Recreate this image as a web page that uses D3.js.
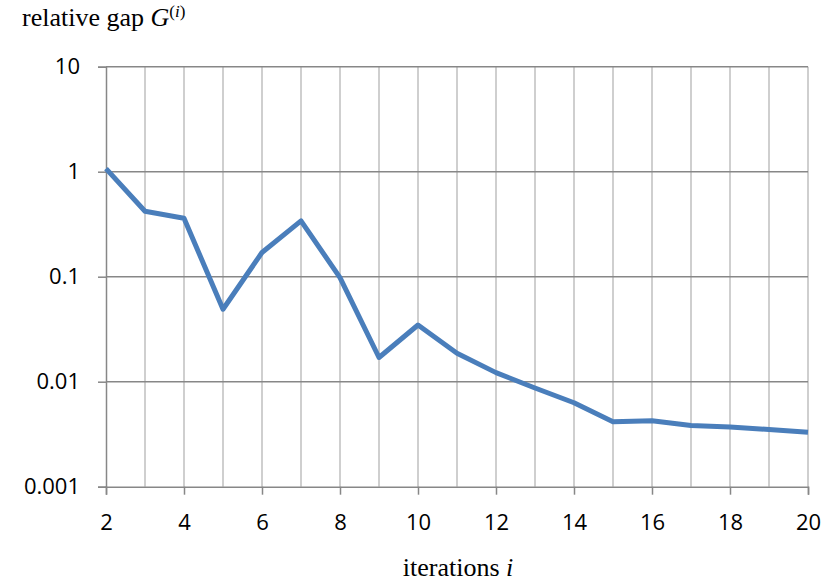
<!DOCTYPE html>
<html>
<head>
<meta charset="utf-8">
<script src="https://cdn.jsdelivr.net/npm/d3@7"></script>
<style>
  html, body { margin: 0; padding: 0; background: #fff; }
  svg { display: block; }
</style>
</head>
<body>
<svg id="chart" width="822" height="585"></svg>
<script>
const iterations = [2, 3, 4, 5, 6, 7, 8, 9, 10, 11, 12, 13, 14, 15, 16, 17, 18, 19, 20];
const gapValues = [1.07, 0.42, 0.36, 0.049, 0.17, 0.34, 0.098, 0.017, 0.0347, 0.0187, 0.0122, 0.0087, 0.0063, 0.00415, 0.00425, 0.00382, 0.00371, 0.0035, 0.0033];
const yTicks = [10, 1, 0.1, 0.01, 0.001];
const yTickLabels = ["10", "1", "0.1", "0.01", "0.001"];
const xTicks = [2, 4, 6, 8, 10, 12, 14, 16, 18, 20];

(function () {
const svg = d3.select("#chart");
const mLeft = 106, mRight = 808, mTop = 66.7, mBottom = 486.7;

const x = d3.scaleLinear().domain([2, 20]).range([mLeft, mRight]);
const y = d3.scaleLog().domain([0.001, 10]).range([mBottom, mTop]);

const tickFont = "'Open Sans', 'Noto Sans', sans-serif";
const serif = "'Liberation Serif', 'DejaVu Serif', serif";

// vertical gridlines at every integer
svg.append("g")
  .selectAll("line")
  .data(d3.range(3, 21))
  .join("line")
  .attr("x1", d => x(d)).attr("x2", d => x(d))
  .attr("y1", mTop).attr("y2", mBottom)
  .attr("stroke", "#bfbfbf").attr("stroke-width", 1.5);

// horizontal gridlines
svg.append("g")
  .selectAll("line")
  .data(yTicks.slice(0, 4))
  .join("line")
  .attr("x1", mLeft).attr("x2", mRight)
  .attr("y1", d => y(d)).attr("y2", d => y(d))
  .attr("stroke", "#878787").attr("stroke-width", 1.5);

// Y axis
const yAxis = d3.axisLeft(y)
  .tickValues(yTicks)
  .tickFormat((d, i) => yTickLabels[i])
  .tickSize(8)
  .tickPadding(18);
const yg = svg.append("g").attr("transform", `translate(${mLeft},0)`).call(yAxis);
yg.select(".domain").attr("stroke", "#878787").attr("stroke-width", 1.5);
yg.selectAll(".tick line").attr("stroke", "#878787").attr("stroke-width", 1.5);
yg.selectAll(".tick text")
  .attr("fill", "#000")
  .style("font-family", tickFont)
  .style("font-size", "22px");

// X axis
const xAxis = d3.axisBottom(x)
  .tickValues(xTicks)
  .tickFormat(d3.format("d"))
  .tickSize(8)
  .tickPadding(20);
const xg = svg.append("g").attr("transform", `translate(0,${mBottom})`).call(xAxis);
xg.select(".domain").attr("stroke", "#878787").attr("stroke-width", 1.5);
xg.selectAll(".tick line").attr("stroke", "#878787").attr("stroke-width", 1.5);
xg.selectAll(".tick text")
  .attr("fill", "#000")
  .style("font-family", tickFont)
  .style("font-size", "22px");

// data line
const line = d3.line()
  .x((d, i) => x(iterations[i]))
  .y(d => y(d));
svg.append("path")
  .datum(gapValues)
  .attr("d", line)
  .attr("fill", "none")
  .attr("stroke", "#4a7ebb")
  .attr("stroke-width", 5)
  .attr("stroke-linejoin", "round");

// Y title
const yt = svg.append("text")
  .attr("x", 22).attr("y", 26)
  .style("font-family", serif)
  .style("font-size", "26px")
  .attr("fill", "#000");
yt.append("tspan").text("relative gap ");
yt.append("tspan").attr("font-style", "italic").text("G");
yt.append("tspan").attr("dy", -9).style("font-size", "17px").text("(");
yt.append("tspan").style("font-size", "17px").attr("font-style", "italic").text("i");
yt.append("tspan").style("font-size", "17px").text(")");

// X title
const xt = svg.append("text")
  .attr("x", 458).attr("y", 576)
  .attr("text-anchor", "middle")
  .style("font-family", serif)
  .style("font-size", "26px")
  .attr("fill", "#000");
xt.append("tspan").text("iterations ");
xt.append("tspan").attr("font-style", "italic").text("i");
})();
</script>
</body>
</html>
